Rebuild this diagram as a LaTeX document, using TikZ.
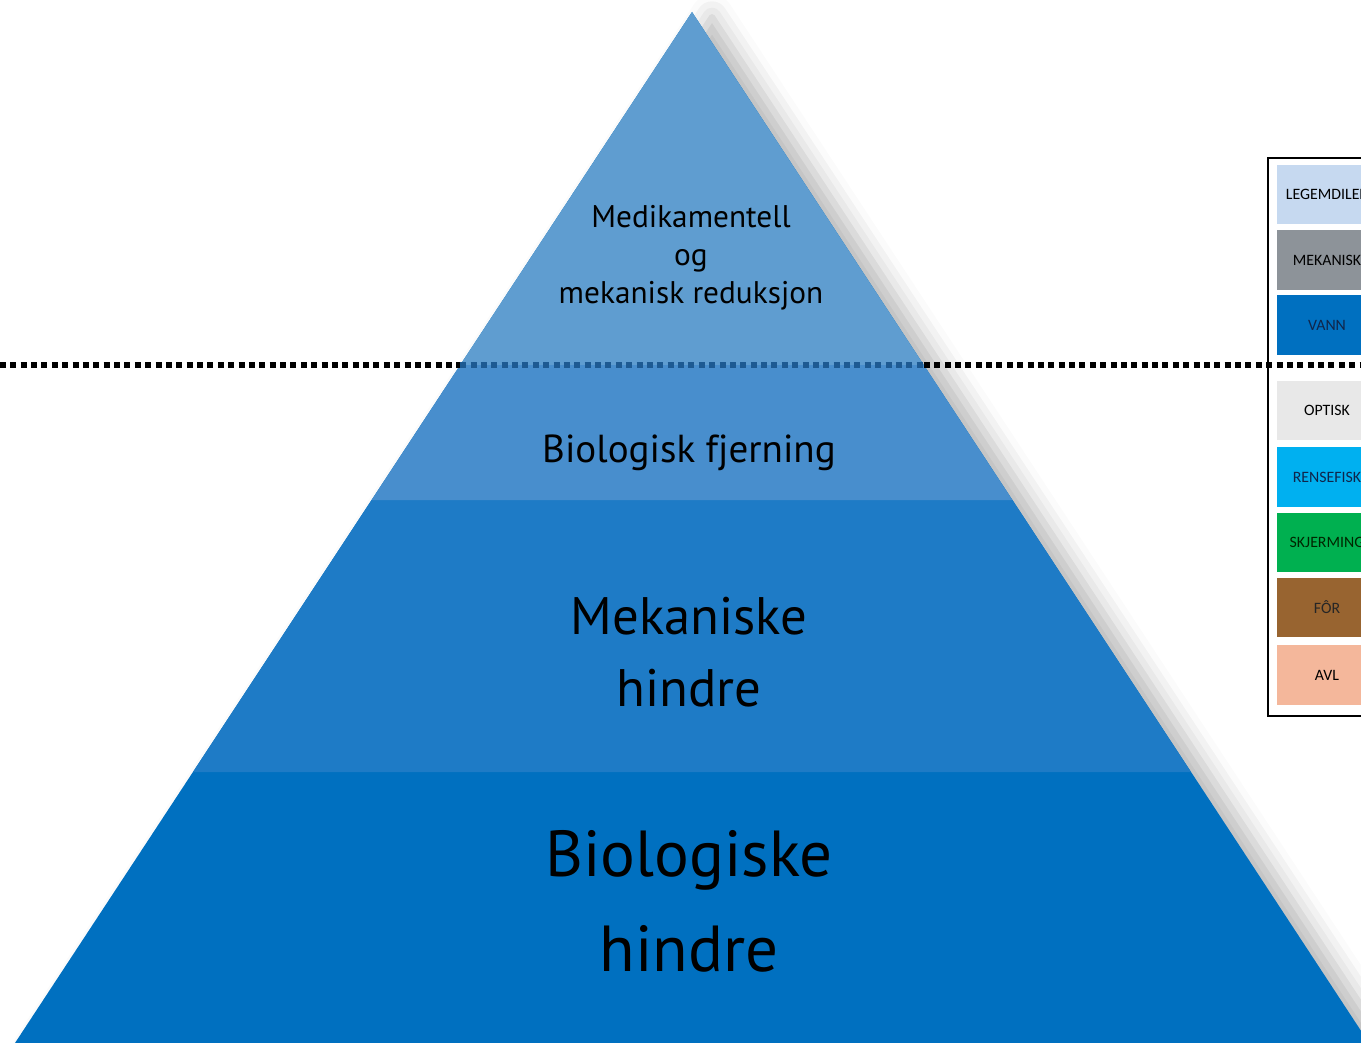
\documentclass[tikz,border=0pt]{standalone}
\usepackage{fontspec}
\setmainfont{PT Sans}
\newfontfamily\legendfont{Carlito}
\usetikzlibrary{shadows.blur}

\definecolor{tierone}{HTML}{5F9DD0}
\definecolor{tiertwo}{HTML}{488ECD}
\definecolor{tierthree}{HTML}{1E7BC6}
\definecolor{tierfour}{HTML}{0070C0}
\definecolor{dotblue}{HTML}{1D5A92}
\definecolor{navytext}{HTML}{10254A}

\tikzset{
  legendcell/.style={minimum width=1cm, minimum height=0.59cm, inner sep=0pt,
    font=\legendfont\fontsize{4.5}{5}\selectfont},
  dotline/.style={line width=1.7pt, dash pattern=on 1.7pt off 1.25pt}
}

\begin{document}
\begin{tikzpicture}[x=0.01cm,y=-0.01cm]
    \useasboundingbox (0,0) rectangle (1361,1043);
    \clip (0,0) rectangle (1361,1043);

    % The pyramid
    \fill[tierfour, blur shadow={shadow xshift=0.2cm, shadow yshift=-0.05cm,
        shadow blur radius=0.22cm, shadow opacity=28}]
        (692,12) -- (1369,1043) -- (15,1043) -- cycle;
    \fill[tierthree] (193,772) -- (371.6,500) -- (1012.4,500) -- (1191,772) -- cycle;
    \fill[tiertwo] (371.6,500) -- (460.2,365) -- (923.8,365) -- (1012.4,500) -- cycle;
    \fill[tierone] (460.2,365) -- (692,12) -- (923.8,365) -- cycle;

    % The dotted line
    \draw[dotline] (0,365) -- (460.2,365);
    \draw[dotline, dotblue] (460.2,365) -- (923.8,365);
    \draw[dotline] (923.8,365) -- (1361,365);

    % Pyramid words
    \node[font=\fontsize{8.9}{10.8}\selectfont, align=center] (medikament)
        at (691,258) {Medikamentell\\og\\mekanisk reduksjon};
    \node[font=\fontsize{11.1}{13}\selectfont] (fjerning)
        at (689,453) {Biologisk fjerning};
    \node[font=\fontsize{15}{20.5}\selectfont, align=center] (mekaniske)
        at (689,652) {Mekaniske\\hindre};
    \node[font=\fontsize{18.5}{27}\selectfont, align=center] (biologiske)
        at (689,901) {Biologiske\\hindre};

    % The legend box
    \draw[line width=0.45pt] (1268,158) rectangle (1400,716);

    % Legend cells above the line
    \node[legendcell, fill={rgb,255:red,198;green,217;blue,240}] (legemdiler) at (1327,194.5) {LEGEMDILER};
    \node[legendcell, fill={rgb,255:red,141;green,147;blue,153}] (mekanisk) at (1327,260) {MEKANISK};
    \node[legendcell, fill=tierfour, text=navytext] (vann) at (1327,325) {VANN};

    % Legend cells below the line
    \node[legendcell, fill=black!9] (optisk) at (1327,410.5) {OPTISK};
    \node[legendcell, fill={rgb,255:red,0;green,176;blue,240}, text=navytext] (rensefisk) at (1327,477) {RENSEFISK};
    \node[legendcell, fill={rgb,255:red,0;green,176;blue,80}, text=black!85!green] (skjerming) at (1327,542.5) {SKJERMING};
    \node[legendcell, fill={rgb,255:red,152;green,100;blue,48}, text=black!85] (foor) at (1327,607.5) {FÔR};
    \node[legendcell, fill={rgb,255:red,244;green,183;blue,155}] (avl) at (1327,675) {AVL};
\end{tikzpicture}
\end{document}
